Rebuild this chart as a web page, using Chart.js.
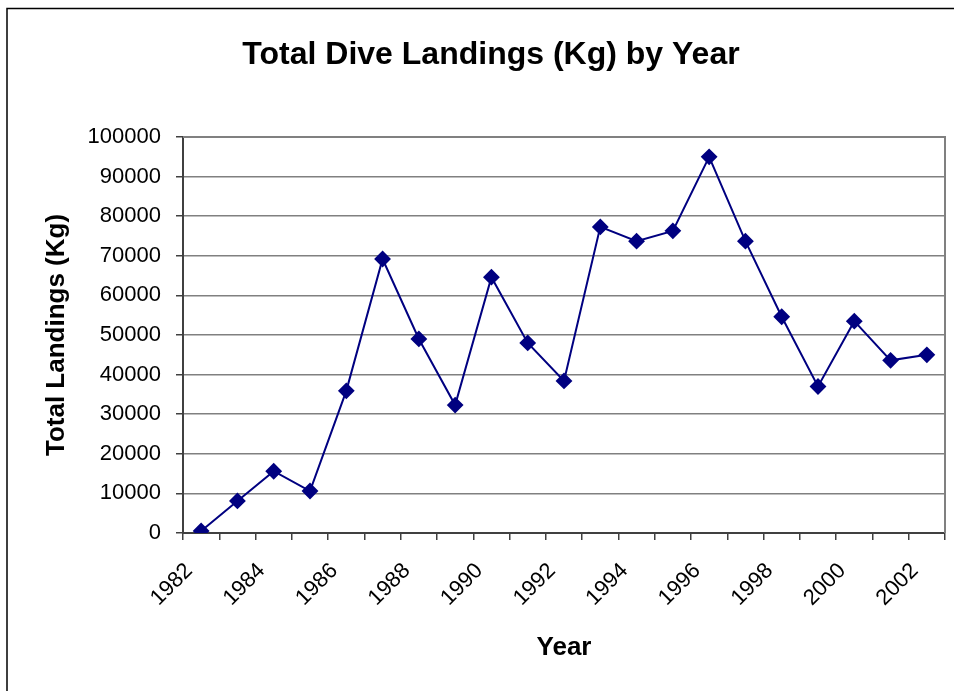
<!DOCTYPE html>
<html>
<head>
<meta charset="utf-8">
<script src="https://cdn.jsdelivr.net/npm/chart.js@4/dist/chart.umd.min.js"></script>
<style>
    html, body { margin: 0; padding: 0; background: #fff; }
    #wrap { width: 954px; height: 691px; position: relative; }
</style>
</head>
<body>
<div id="wrap"><canvas id="diveChart" width="954" height="691"></canvas></div>
<script>
const years = ['1982', '1983', '1984', '1985', '1986', '1987', '1988', '1989', '1990', '1991', '1992',
    '1993', '1994', '1995', '1996', '1997', '1998', '1999', '2000', '2001', '2002'];
const landings = [500, 8100, 15600, 10600, 35900, 69200, 49000, 32300, 64600, 48000, 38400,
    77300, 73700, 76300, 95000, 73700, 54600, 37000, 53500, 43600, 45000];
const yTicks = [0, 10000, 20000, 30000, 40000, 50000, 60000, 70000, 80000, 90000, 100000];

const fontFamily = "'Liberation Sans', Arial, sans-serif";

// plot frame + outer chart border, Excel style
const framePlugin = {
    id: 'frame',
    beforeDraw(chart) {
        const ctx = chart.ctx;
        ctx.save();
        ctx.strokeStyle = '#000';
        ctx.lineWidth = 1.5;
        ctx.beginPath();
        ctx.moveTo(7, 700);
        ctx.lineTo(7, 8.5);
        ctx.lineTo(960, 8.5);
        ctx.stroke();
        ctx.restore();
    },
    afterDatasetsDraw(chart) {
        const a = chart.chartArea;
        const ctx = chart.ctx;
        ctx.save();
        ctx.strokeStyle = '#808080';
        ctx.lineWidth = 2;
        ctx.beginPath();
        ctx.moveTo(a.left, a.top);
        ctx.lineTo(a.right, a.top);
        ctx.lineTo(a.right, a.bottom);
        ctx.stroke();
        ctx.restore();
    }
};

new Chart(document.getElementById('diveChart').getContext('2d'), {
    type: 'line',
    data: {
        labels: years,
        datasets: [{
            label: 'Total Landings',
            data: landings,
            borderColor: '#000080',
            backgroundColor: '#000080',
            borderWidth: 2,
            pointStyle: 'rectRot',
            pointRadius: 7,
            pointHoverRadius: 7,
            tension: 0,
            fill: false
        }]
    },
    options: {
        responsive: false,
        animation: false,
        layout: {
            padding: { left: 36, right: 8, top: 0, bottom: 0 }
        },
        plugins: {
            legend: { display: false },
            tooltip: { enabled: false },
            title: {
                display: true,
                text: 'Total Dive Landings (Kg) by Year',
                color: '#000',
                font: { family: fontFamily, size: 32, weight: 'bold' },
                padding: { top: 36, bottom: 62.6 }
            }
        },
        scales: {
            x: {
                offset: true,
                grid: {
                    offset: true,
                    drawOnChartArea: false,
                    drawTicks: true,
                    tickLength: 7,
                    color: '#404040',
                    lineWidth: 1.5
                },
                border: { color: '#404040', width: 2 },
                ticks: {
                    color: '#000',
                    font: { family: fontFamily, size: 22 },
                    minRotation: 45,
                    maxRotation: 45,
                    autoSkip: false,
                    padding: 18,
                    labelOffset: -12,
                    callback: function (value, index) {
                        return index % 2 === 0 ? years[index] : '';
                    }
                },
                title: {
                    display: true,
                    text: 'Year',
                    color: '#000',
                    font: { family: fontFamily, size: 26, weight: 'bold' },
                    padding: { top: 0, bottom: 28 }
                },
                afterFit: function (scale) {
                    scale.height = 691 - 533;
                    scale.paddingLeft = 0;
                    scale.paddingRight = 0;
                }
            },
            y: {
                min: 0,
                max: 100000,
                afterBuildTicks: function (scale) {
                    scale.ticks = yTicks.map(v => ({ value: v }));
                },
                grid: {
                    color: '#808080',
                    lineWidth: 1.5,
                    drawTicks: true,
                    tickLength: 7,
                    tickColor: '#404040'
                },
                border: { color: '#404040', width: 2 },
                ticks: {
                    color: '#000',
                    font: { family: fontFamily, size: 22 },
                    padding: 15,
                    callback: function (value) {
                        return String(value);
                    }
                },
                title: {
                    display: true,
                    text: 'Total Landings (Kg)',
                    color: '#000',
                    font: { family: fontFamily, size: 26, weight: 'bold' },
                    padding: { top: 5, bottom: 0 }
                },
                afterFit: function (scale) {
                    scale.width = 183 - 36;
                    scale.paddingTop = 0;
                    scale.paddingBottom = 0;
                }
            }
        }
    },
    plugins: [framePlugin]
});
</script>
</body>
</html>
